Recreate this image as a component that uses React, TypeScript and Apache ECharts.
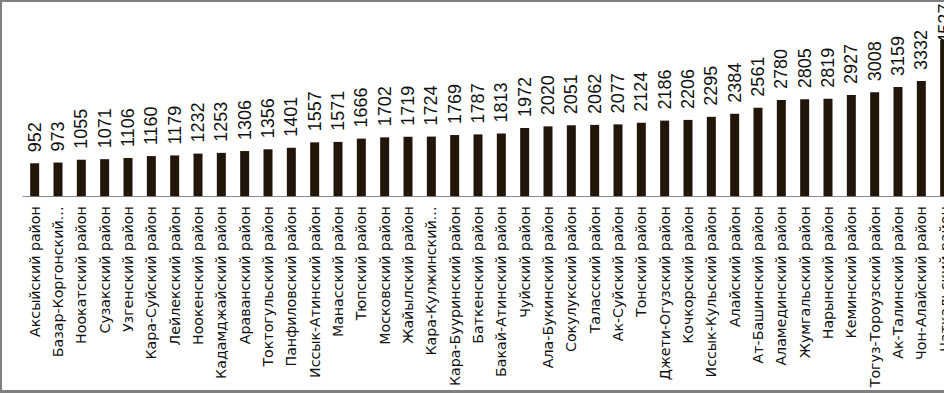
import React, { useEffect, useRef } from "react";
import * as echarts from "echarts";

const categories: string[] = [
  "Аксыйский район", "Базар-Коргонский…", "Ноокатский район", "Сузакский район",
  "Узгенский район", "Кара-Суйский район", "Лейлекский район", "Ноокенский район",
  "Кадамджайский район", "Араванский район", "Токтогульский район", "Панфиловский район",
  "Иссык-Атинский район", "Манасский район", "Тюпский район", "Московский район",
  "Жайылский район", "Кара-Кулжинский…", "Кара-Бууринский район", "Баткенский район",
  "Бакай-Атинский район", "Чуйский район", "Ала-Букинский район", "Сокулукский район",
  "Таласский район", "Ак-Суйский район", "Тонский район", "Джети-Огузский район",
  "Кочкорский район", "Иссык-Кульский район", "Алайский район", "Ат-Башинский район",
  "Аламединский район", "Жумгальский район", "Нарынский район", "Кеминский район",
  "Тогуз-Тороузский район", "Ак-Талинский район", "Чон-Алайский район", "Чаткальский район",
];

const values: number[] = [
  952, 973, 1055, 1071, 1106, 1160, 1179, 1232, 1253, 1306,
  1356, 1401, 1557, 1571, 1666, 1702, 1719, 1724, 1769, 1787,
  1813, 1972, 2020, 2051, 2062, 2077, 2124, 2186, 2206, 2295,
  2384, 2561, 2780, 2805, 2819, 2927, 3008, 3159, 3332, 4527,
];

const VALUE_FONT = "'Liberation Sans', Arial, sans-serif";
const CAT_FONT = "'DejaVu Sans', sans-serif";

export default function App() {
  const ref = useRef<HTMLDivElement>(null);
  useEffect(() => {
    if (!ref.current) return;
    const chart = echarts.init(ref.current, null, { renderer: "svg" });
    const last = values.length - 1;
    const seriesData = values.map((v, i) =>
      i === last ? { value: v, label: { distance: -4 } } : v
    );
    chart.setOption({
      animation: false,
      backgroundColor: "#ffffff",
      grid: {
        left: 23,
        width: 933.33,
        top: 23.3,
        bottom: 196.8,
        containLabel: false,
        outerBoundsMode: "none",
      },
      xAxis: {
        type: "category",
        data: categories,
        axisLine: { show: true, lineStyle: { color: "#8c8c8c", width: 1 } },
        axisTick: { show: false },
        axisLabel: {
          interval: 0,
          rotate: 90,
          margin: 10,
          fontSize: 14.2,
          fontFamily: CAT_FONT,
          color: "#111111",
          hideOverlap: false,
        },
      },
      yAxis: {
        type: "value",
        min: 0,
        max: 5000,
        show: false,
        splitLine: { show: false },
      },
      series: [
        {
          type: "bar",
          data: seriesData,
          barWidth: 9,
          itemStyle: { color: "#22160b" },
          label: {
            show: true,
            position: "top",
            rotate: 90,
            align: "left",
            verticalAlign: "middle",
            distance: 11,
            fontSize: 18,
            fontFamily: VALUE_FONT,
            color: "#111111",
          },
        },
      ],
    });
    return () => chart.dispose();
  }, []);

  return (
    <div
      style={{
        position: "absolute",
        left: 0,
        top: 0,
        width: 944,
        height: 393,
        overflow: "hidden",
        background: "#fff",
      }}
    >
      <div ref={ref} style={{ position: "absolute", left: 0, top: 0, width: 960, height: 393 }} />
      <div
        style={{
          position: "absolute",
          left: 0,
          top: 0,
          width: 944,
          height: 393,
          boxSizing: "border-box",
          borderTop: "2px solid #808080",
          borderLeft: "2px solid #808080",
          borderBottom: "3px solid #808080",
          pointerEvents: "none",
        }}
      />
    </div>
  );
}
